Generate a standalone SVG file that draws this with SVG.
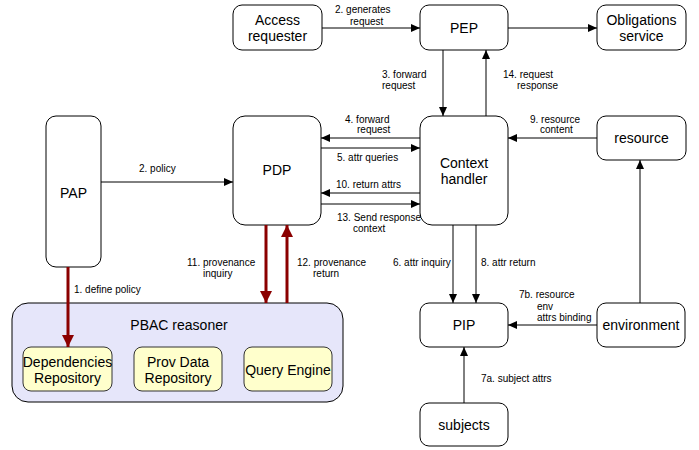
<svg xmlns="http://www.w3.org/2000/svg" width="699" height="450" viewBox="0 0 699 450">
<defs>
<marker id="ah" markerUnits="userSpaceOnUse" markerWidth="9" markerHeight="8" refX="9" refY="4" orient="auto"><path d="M0,0 L9,4 L0,8 z" fill="#000"/></marker>
<marker id="ahr" markerUnits="userSpaceOnUse" markerWidth="12" markerHeight="12" refX="12" refY="6" orient="auto"><path d="M0,0 L12,6 L0,12 z" fill="#8B0000"/></marker>
<style>
.n{fill:#fff;stroke:#000;stroke-width:1}
.y{fill:#FFFFCC;stroke:#333;stroke-width:1}
.t{font-family:"Liberation Sans",Arial,sans-serif;font-size:14px;text-anchor:middle;fill:#000}
.l{font-family:"Liberation Sans",Arial,sans-serif;font-size:10px;fill:#000}
.c{stroke:#000;stroke-width:1;fill:none;marker-end:url(#ah)}
.r{stroke:#8B0000;stroke-width:3;fill:none;marker-end:url(#ahr)}
</style>
</defs>
<rect width="699" height="450" fill="#fff"/>
<g id="pbac">
<rect x="12" y="303" width="331" height="99" rx="16" fill="#E6E6FA" stroke="#000"/>
<text class="t" x="179" y="330">PBAC reasoner</text>
</g>
<g id="dep"><rect class="y" x="23" y="347" width="89" height="44" rx="8"/><text class="t" x="67.5" y="367">Dependencies</text><text class="t" x="67.5" y="383">Repository</text></g>
<g id="prov"><rect class="y" x="134" y="347" width="88" height="44" rx="8"/><text class="t" x="178" y="367">Prov Data</text><text class="t" x="178" y="383">Repository</text></g>
<g id="query"><rect class="y" x="244" y="347" width="88" height="44" rx="8"/><text class="t" x="288" y="375">Query Engine</text></g>
<g id="access"><rect class="n" x="233" y="5" width="89" height="45" rx="9"/><text class="t" x="277.5" y="25">Access</text><text class="t" x="277.5" y="41">requester</text></g>
<g id="pep"><rect class="n" x="420" y="5" width="88" height="45" rx="9"/><text class="t" x="464" y="33">PEP</text></g>
<g id="obl"><rect class="n" x="597" y="5" width="89" height="45" rx="9"/><text class="t" x="641.5" y="25">Obligations</text><text class="t" x="641.5" y="41">service</text></g>
<g id="pap"><rect class="n" x="46" y="116" width="55" height="151" rx="10"/><text class="t" x="73.5" y="198">PAP</text></g>
<g id="pdp"><rect class="n" x="233" y="116" width="88" height="109" rx="12"/><text class="t" x="277" y="175">PDP</text></g>
<g id="ch"><rect class="n" x="420" y="116" width="88" height="109" rx="12"/><text class="t" x="464" y="168">Context</text><text class="t" x="464" y="184">handler</text></g>
<g id="resource"><rect class="n" x="597" y="116" width="89" height="44" rx="9"/><text class="t" x="641.5" y="143">resource</text></g>
<g id="pip"><rect class="n" x="420" y="303" width="88" height="44" rx="9"/><text class="t" x="464" y="330">PIP</text></g>
<g id="env"><rect class="n" x="597" y="303" width="88" height="44" rx="9"/><text class="t" x="641" y="330">environment</text></g>
<g id="subjects"><rect class="n" x="420" y="403" width="88" height="43" rx="9"/><text class="t" x="464" y="430">subjects</text></g>
<g id="connectors">
<line class="c" x1="322" y1="28" x2="420" y2="28"/>
<line class="c" x1="508" y1="28" x2="597" y2="28"/>
<line class="c" x1="443" y1="50" x2="443" y2="116"/>
<line class="c" x1="486" y1="116" x2="486" y2="50"/>
<line class="c" x1="420" y1="138" x2="321" y2="138"/>
<line class="c" x1="321" y1="148" x2="420" y2="148"/>
<line class="c" x1="420" y1="193" x2="321" y2="193"/>
<line class="c" x1="321" y1="204" x2="420" y2="204"/>
<line class="c" x1="597" y1="138" x2="508" y2="138"/>
<line class="c" x1="101" y1="182" x2="233" y2="182"/>
<line class="c" x1="453" y1="225" x2="453" y2="303"/>
<line class="c" x1="476" y1="225" x2="476" y2="303"/>
<line class="c" x1="597" y1="325" x2="508" y2="325"/>
<line class="c" x1="640" y1="303" x2="640" y2="160"/>
<line class="c" x1="464" y1="403" x2="464" y2="347"/>
<line class="r" x1="68" y1="267" x2="68" y2="347"/>
<line class="r" x1="266" y1="225" x2="266" y2="303"/>
<line class="r" x1="287" y1="303" x2="287" y2="225"/>
<text class="l" x="335" y="13">2. generates</text>
<text class="l" x="350" y="25">request</text>
<text class="l" x="382" y="78">3. forward</text>
<text class="l" x="382" y="89">request</text>
<text class="l" x="503" y="78">14. request</text>
<text class="l" x="517" y="89">response</text>
<text class="l" x="345" y="123">4. forward</text>
<text class="l" x="357" y="133">request</text>
<text class="l" x="337" y="161">5. attr queries</text>
<text class="l" x="336" y="188">10. return attrs</text>
<text class="l" x="337" y="221">13. Send response</text>
<text class="l" x="353" y="232">context</text>
<text class="l" x="530" y="123">9. resource</text>
<text class="l" x="540" y="133">content</text>
<text class="l" x="139" y="172">2. policy</text>
<text class="l" x="187" y="266">11. provenance</text>
<text class="l" x="203" y="277">inquiry</text>
<text class="l" x="297" y="266">12. provenance</text>
<text class="l" x="313" y="277">return</text>
<text class="l" x="74" y="293">1. define policy</text>
<text class="l" x="393" y="266">6. attr inquiry</text>
<text class="l" x="481" y="266">8. attr return</text>
<text class="l" x="519" y="298">7b. resource</text>
<text class="l" x="537" y="310">env</text>
<text class="l" x="537" y="321">attrs binding</text>
<text class="l" x="481" y="382">7a. subject attrs</text>
</g>
</svg>
